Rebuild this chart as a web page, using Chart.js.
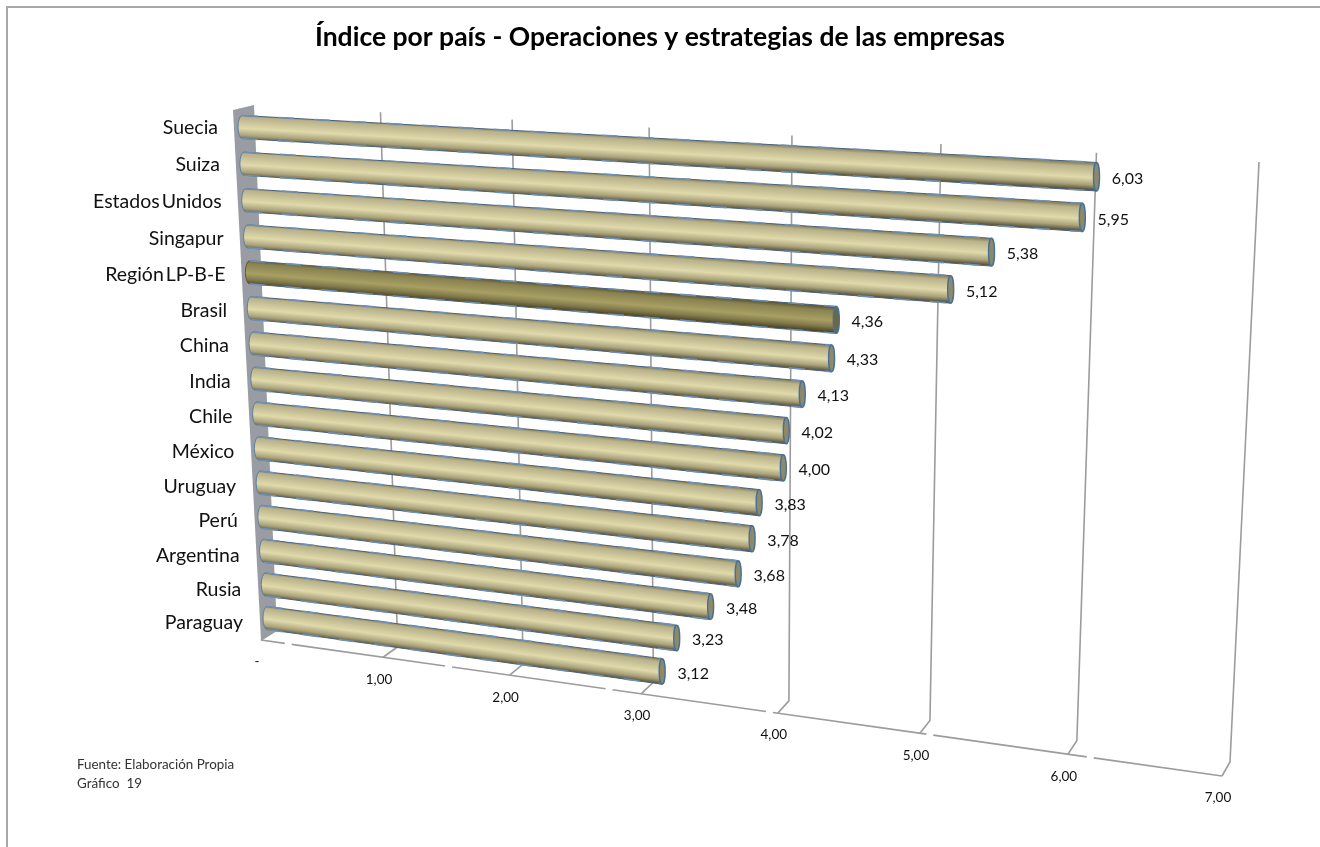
<!DOCTYPE html>
<html>
<head>
<meta charset="utf-8">
<title>Índice por país</title>
<script src="https://cdn.jsdelivr.net/npm/chart.js@4/dist/chart.umd.min.js"></script>
<style>
  html, body { margin: 0; padding: 0; background: #fff; }
  canvas { display: block; }
</style>
</head>
<body>
<canvas id="grafico" width="1320" height="847"></canvas>
<script>
const paises = ['Suecia', 'Suiza', 'Estados Unidos', 'Singapur', 'Región LP-B-E', 'Brasil', 'China', 'India',
    'Chile', 'México', 'Uruguay', 'Perú', 'Argentina', 'Rusia', 'Paraguay'];
const indice = [6.03, 5.95, 5.38, 5.12, 4.36, 4.33, 4.13, 4.02, 4.00, 3.83, 3.78, 3.68, 3.48, 3.23, 3.12];
const destacado = 'Región LP-B-E';
const titulo = 'Índice por país - Operaciones y estrategias de las empresas';
const nota = ['Fuente: Elaboración Propia', 'Gráfico  19'];

// Esquinas de los planos en perspectiva: [cero arriba, max arriba, cero abajo, max abajo]
const planoFondo = [[254, 105], [1259, 162], [277, 630], [1230, 762]];
const planoFrente = [[233, 110], [1245, 172], [261, 640], [1222, 776]];
const planoBarras = [[242, 127], [1256, 186], [267, 618], [1228, 748]];

// Homografia del cuadrado unidad al cuadrilatero
function homografia(q) {
    const [p0, p1, p2, p3] = q;
    const dx1 = p1[0] - p3[0], dx2 = p2[0] - p3[0], sx = p0[0] - p1[0] - p2[0] + p3[0];
    const dy1 = p1[1] - p3[1], dy2 = p2[1] - p3[1], sy = p0[1] - p1[1] - p2[1] + p3[1];
    const det = dx1 * dy2 - dx2 * dy1;
    const g = (sx * dy2 - dx2 * sy) / det;
    const h = (dx1 * sy - sx * dy1) / det;
    const a = p1[0] - p0[0] + g * p1[0], b = p2[0] - p0[0] + h * p2[0];
    const d = p1[1] - p0[1] + g * p1[1], e = p2[1] - p0[1] + h * p2[1];
    return (u, v) => {
        const w = g * u + h * v + 1;
        return [(a * u + b * v + p0[0]) / w, (d * u + e * v + p0[1]) / w];
    };
}
const fondo = homografia(planoFondo);
const frente = homografia(planoFrente);
const barras = homografia(planoBarras);

const coma = v => v.toFixed(2).replace('.', ',');
const LETRA = 'Lato, Carlito, sans-serif';

function dibujarPared(ctx, escalaX) {
    // pared gris de la izquierda
    const a = fondo(0, 0), b = fondo(0, 1), c = frente(0, 1), d = frente(0, 0);
    ctx.fillStyle = '#9a9ca3';
    ctx.beginPath();
    ctx.moveTo(d[0], d[1]);
    ctx.lineTo(a[0], a[1]);
    ctx.lineTo(b[0], b[1]);
    ctx.lineTo(c[0], c[1]);
    ctx.closePath();
    ctx.fill();

    ctx.strokeStyle = '#9c9c9c';
    ctx.lineWidth = 1.6;
    escalaX.ticks.forEach(t => {
        if (t.value === 0) return;
        const u = (escalaX.getPixelForValue(t.value) - escalaX.left) / escalaX.width;
        const p = fondo(u, 0), q = fondo(u, 1), r = frente(u, 1);
        ctx.beginPath();
        ctx.moveTo(p[0], p[1]);
        ctx.lineTo(q[0], q[1]);
        ctx.lineTo(r[0], r[1]);
        ctx.stroke();
    });
    // piso, con los cortes que trae la linea original
    const f0 = frente(0, 1), f1 = frente(1, 1);
    ctx.setLineDash([155, 7]);
    ctx.lineDashOffset = 131;
    ctx.beginPath();
    ctx.moveTo(f0[0], f0[1]);
    ctx.lineTo(f1[0], f1[1]);
    ctx.stroke();
    ctx.setLineDash([]);
    ctx.lineDashOffset = 0;
    const g0 = fondo(0, 1), g1 = frente(0, 1);
    ctx.beginPath();
    ctx.moveTo(g0[0], g0[1]);
    ctx.lineTo(g1[0], g1[1]);
    ctx.stroke();
}

function dibujarCilindro(ctx, inicio, fin, esOscura) {
    const g0 = 11.5, g1 = 11.5 + (fin[0] - inicio[0]) * 0.0032;
    const ang = Math.atan2(fin[1] - inicio[1], fin[0] - inicio[0]);
    const nx = -Math.sin(ang), ny = Math.cos(ang);
    const rx = 3, rxInicio = 4;
    const medioX = (inicio[0] + fin[0]) / 2, medioY = (inicio[1] + fin[1]) / 2, gm = (g0 + g1) / 2;
    // el degradado va perpendicular al eje del cilindro
    const grad = ctx.createLinearGradient(medioX - nx * gm, medioY - ny * gm, medioX + nx * gm, medioY + ny * gm);
    if (esOscura) {
        grad.addColorStop(0, '#5f5a36');
        grad.addColorStop(0.15, '#8a8250');
        grad.addColorStop(0.55, '#a89f63');
        grad.addColorStop(0.8, '#80784a');
        grad.addColorStop(1, '#4b4526');
    } else {
        grad.addColorStop(0, '#8d8862');
        grad.addColorStop(0.12, '#b9b28a');
        grad.addColorStop(0.55, '#e0d9ab');
        grad.addColorStop(0.82, '#aba47c');
        grad.addColorStop(1, '#5f5b42');
    }
    // cuerpo
    ctx.beginPath();
    ctx.moveTo(inicio[0], inicio[1] - g0);
    ctx.lineTo(fin[0], fin[1] - g1);
    ctx.lineTo(fin[0], fin[1] + g1);
    ctx.lineTo(inicio[0], inicio[1] + g0);
    ctx.ellipse(inicio[0], inicio[1], rxInicio, g0, 0, Math.PI / 2, Math.PI * 1.5);
    ctx.closePath();
    ctx.fillStyle = grad;
    ctx.fill();

    // bordes azules
    ctx.lineWidth = 1;
    ctx.strokeStyle = '#47617f';
    ctx.beginPath();
    ctx.moveTo(inicio[0], inicio[1] + g0);
    ctx.lineTo(fin[0], fin[1] + g1);
    ctx.moveTo(inicio[0], inicio[1] - g0);
    ctx.lineTo(fin[0], fin[1] - g1);
    ctx.stroke();
    ctx.setLineDash([16, 20]);
    ctx.lineWidth = 1.6;
    ctx.strokeStyle = '#6f8fb5';
    ctx.stroke();
    ctx.setLineDash([]);
    ctx.beginPath();
    ctx.ellipse(inicio[0], inicio[1], rxInicio, g0, 0, Math.PI / 2, Math.PI * 1.5);
    ctx.lineWidth = 1;
    ctx.strokeStyle = esOscura ? '#5d5a3a' : '#5b7fa6';
    ctx.stroke();

    // tapa
    ctx.beginPath();
    ctx.ellipse(fin[0], fin[1], rx, g1, 0, 0, Math.PI * 2);
    ctx.fillStyle = esOscura ? '#6e6840' : '#8f8a66';
    ctx.fill();
    ctx.lineWidth = 1.4;
    ctx.strokeStyle = '#44709f';
    ctx.stroke();
}

const perspectiva = {
    id: 'perspectiva',
    beforeDatasetsDraw(chart) {
        const ctx = chart.ctx;
        ctx.save();
        // marco del grafico
        ctx.strokeStyle = '#a8a8a8';
        ctx.lineWidth = 2;
        ctx.beginPath();
        ctx.moveTo(7, 847);
        ctx.lineTo(7, 7);
        ctx.lineTo(1320, 7);
        ctx.stroke();
        dibujarPared(ctx, chart.scales.x);
        ctx.restore();
    },
    beforeDatasetDraw(chart, args) {
        const ctx = chart.ctx;
        const ex = chart.scales.x, ey = chart.scales.y;
        const y0 = ey.getPixelForValue(0), yN = ey.getPixelForValue(paises.length - 1);
        ctx.save();
        args.meta.data.forEach((barra, i) => {
            const v = (barra.y - y0) / (yN - y0);
            const inicio = barras(0, v);
            const fin = barras((barra.x - ex.left) / ex.width, v);
            dibujarCilindro(ctx, inicio, fin, paises[i] === destacado);
        });
        ctx.restore();
        return false; // la barra plana no se dibuja
    },
    afterDatasetsDraw(chart) {
        const ctx = chart.ctx;
        const ex = chart.scales.x, ey = chart.scales.y;
        const y0 = ey.getPixelForValue(0), yN = ey.getPixelForValue(paises.length - 1);
        ctx.save();
        ctx.fillStyle = '#111';
        ctx.textBaseline = 'middle';

        // paises
        ctx.font = '19.5px ' + LETRA;
        ctx.wordSpacing = '-3px';
        ctx.textAlign = 'right';
        chart.getDatasetMeta(0).data.forEach((barra, i) => {
            const v = (barra.y - y0) / (yN - y0);
            const p = barras(0, v);
            ctx.fillText(paises[i], p[0] - 24, p[1] + 1 + v * 4);
        });
        ctx.wordSpacing = '0px';

        // valores
        ctx.font = '16px ' + LETRA;
        ctx.textAlign = 'center';
        chart.getDatasetMeta(0).data.forEach((barra, i) => {
            const v = (barra.y - y0) / (yN - y0);
            const p = barras((barra.x - ex.left) / ex.width, v);
            ctx.fillText(coma(indice[i]), p[0] + 31, p[1] + 2);
        });

        // eje de valores
        ctx.font = '13.5px ' + LETRA;
        ex.ticks.forEach(t => {
            const u = (ex.getPixelForValue(t.value) - ex.left) / ex.width;
            const p = frente(u, 1);
            ctx.fillText(t.value === 0 ? '-' : coma(t.value), p[0] - 4, p[1] + 22);
        });

        // nota
        ctx.font = '13.4px ' + LETRA;
        ctx.textAlign = 'left';
        ctx.fillStyle = '#333';
        nota.forEach((linea, i) => ctx.fillText(linea, 77, 765 + i * 19));
        ctx.restore();
    }
};

new Chart(document.getElementById('grafico'), {
    type: 'bar',
    plugins: [perspectiva],
    data: {
        labels: paises,
        datasets: [{
            label: 'Índice',
            data: indice,
            backgroundColor: paises.map(p => p === destacado ? '#a89f63' : '#e0d9ab')
        }]
    },
    options: {
        indexAxis: 'y',
        responsive: false,
        animation: false,
        scales: {
            x: { display: false, min: 0, max: 7, ticks: { stepSize: 1 } },
            y: { display: false }
        },
        plugins: {
            legend: { display: false },
            tooltip: { enabled: false },
            title: {
                display: true,
                text: titulo,
                color: '#000',
                font: { family: LETRA, size: 26.5, weight: 'bold' },
                padding: { top: 22, bottom: 10 }
            }
        }
    }
});
</script>
</body>
</html>
